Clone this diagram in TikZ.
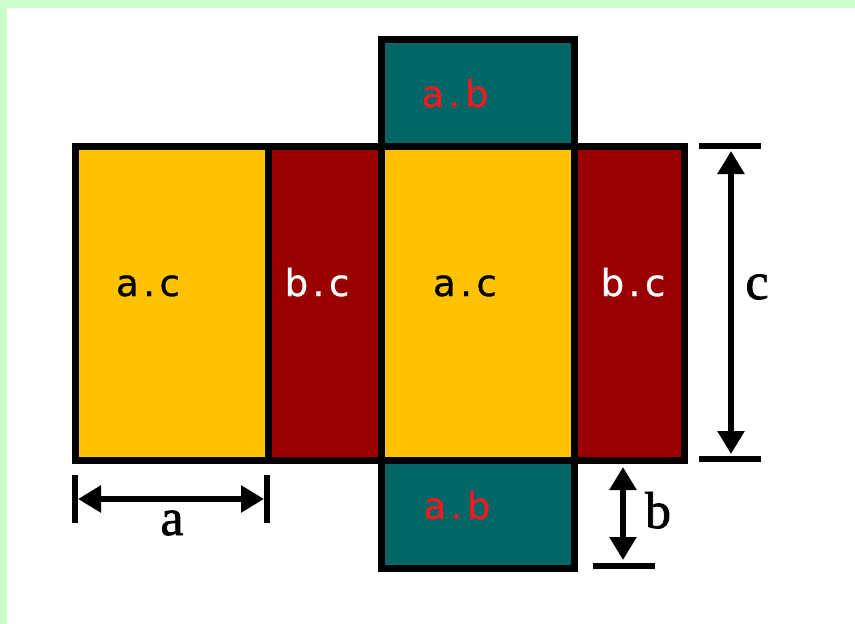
\documentclass[tikz,border=0pt]{standalone}
\usepackage{fontspec}
\setmainfont{Liberation Serif}
\newfontfamily\lblfont[FakeBold=0.8]{DejaVu Sans}
\newfontfamily\dimfont[FakeBold=1.5]{Liberation Serif}
\usetikzlibrary{arrows.meta}
\definecolor{bandgreen}{HTML}{CCFFCC}
\definecolor{netyellow}{HTML}{FFC200}
\definecolor{netred}{HTML}{990000}
\definecolor{netteal}{HTML}{006666}
\definecolor{txtred}{HTML}{ED1C24}
\newcommand\dotlbl[2]{#1\hspace{4.5pt}.\hspace{4.5pt}#2}
\begin{document}
\begin{tikzpicture}[x=1pt,y=-1pt,
  face/.style={draw=black, line width=7pt, inner sep=0pt, outer sep=0pt},
  flbl/.style={font=\lblfont\fontsize{37}{37}\selectfont, inner sep=0pt, anchor=base},
  dimlbl/.style={font=\dimfont\fontsize{52}{52}\selectfont, inner sep=0pt, anchor=base},
  dimarrow/.style={line width=5.5pt, {Triangle[length=23pt,width=26pt]}-{Triangle[length=23pt,width=26pt]}},
  tickline/.style={line width=6.5pt}]
\useasboundingbox (0,0) rectangle (855,624);
\fill[white] (0,0) rectangle (855,624);
\fill[bandgreen] (0,0) rectangle (855,8);
\fill[bandgreen] (0,0) rectangle (7,624);
% faces
\node[face, fill=netyellow, minimum width=193pt, minimum height=314pt] (ac1) at (171.5,303) {};
\node[face, fill=netred, minimum width=113pt, minimum height=314pt] (bc1) at (324.5,303) {};
\node[face, fill=netyellow, minimum width=193pt, minimum height=314pt] (ac2) at (477.5,303) {};
\node[face, fill=netred, minimum width=110pt, minimum height=314pt] (bc2) at (629,303) {};
\node[face, fill=netteal, minimum width=193pt, minimum height=107pt] (ab1) at (477.5,92.5) {};
\node[face, fill=netteal, minimum width=193pt, minimum height=108pt] (ab2) at (477.5,514) {};
% face labels
\node[flbl, text=black] (tac1) at (148,296) {\dotlbl{a}{c}};
\node[flbl, text=white] (tbc1) at (317,296) {\dotlbl{b}{c}};
\node[flbl, text=black] (tac2) at (465,296) {\dotlbl{a}{c}};
\node[flbl, text=white] (tbc2) at (633,296) {\dotlbl{b}{c}};
\node[flbl, text=txtred] (tab1) at (455,107) {\dotlbl{a}{b}};
\node[flbl, text=txtred] (tab2) at (457,519) {\dotlbl{a}{b}};
% dimension a
\coordinate (aLt) at (75,475); \coordinate (aLb) at (75,523);
\coordinate (aRt) at (267,475); \coordinate (aRb) at (267,523);
\coordinate (aL) at (78,499); \coordinate (aR) at (264,499);
\draw[tickline] (aLt) -- (aLb);
\draw[tickline] (aRt) -- (aRb);
\draw[dimarrow] (aL) -- (aR);
\node[dimlbl] (la) at (172,535) {a};
% dimension c
\coordinate (cTl) at (699,146); \coordinate (cTr) at (761,146);
\coordinate (cBl) at (699,459); \coordinate (cBr) at (761,459);
\coordinate (cT) at (731,151); \coordinate (cB) at (731,454);
\draw[tickline] (cTl) -- (cTr);
\draw[tickline] (cBl) -- (cBr);
\draw[dimarrow] (cT) -- (cB);
\node[dimlbl] (lc) at (757,299) {c};
% dimension b
\coordinate (bBl) at (593,566); \coordinate (bBr) at (655,566);
\coordinate (bT) at (623,467); \coordinate (bB) at (623,560);
\draw[tickline] (bBl) -- (bBr);
\draw[dimarrow] (bT) -- (bB);
\node[dimlbl] (lb) at (658,528) {b};
\end{tikzpicture}
\end{document}
